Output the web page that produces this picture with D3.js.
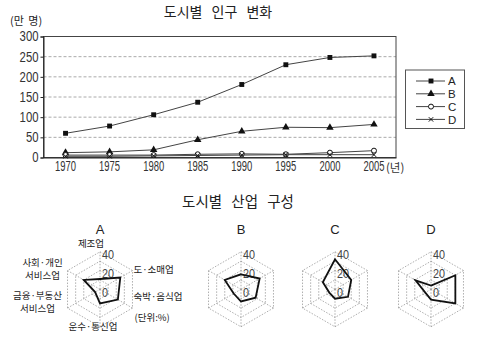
<!DOCTYPE html>
<html><head><meta charset="utf-8">
<script src="https://cdn.jsdelivr.net/npm/d3@7"></script>
<style>
html,body{margin:0;padding:0;background:#fff;}
svg{display:block;}
.kr{font-family:"Noto Sans CJK KR","Noto Sans",sans-serif;}
.num{font-family:"Liberation Sans",Arial,sans-serif;}
</style></head>
<body>
<script>
// ---------- data ----------
const years = ["1970","1975","1980","1985","1990","1995","2000","2005"];
const seriesNames = ["A","B","C","D"];
const popA = [60,78,106,137,181,230,248,252];
const popB = [12,14,19,44,65,75,74,82];
const popC = [6,6,6,8,9,8,12,17];
const popD = [3,3,4,5,6,7,7,7];
const yTicks = [0,50,100,150,200,250,300];

const industries = ["제조업","도·소매업","숙박·음식업","운수·통신업","금융·부동산|서비스업","사회·개인|서비스업"];
const cities = ["A","B","C","D"];
const shareA = [11,25,22,15,6,20];
const shareB = [16,23,18,13,9,20];
const shareC = [32,20,16,10,7,15];
const shareD = [4,30,30,11,7,19];
const radarTicks = [0,20,40];
const radarRings = [10,20,30,40];

// ---------- svg ----------
const W=483,H=347;
const svg=d3.select("body").append("svg").attr("width",W).attr("height",H);

// ===== line chart =====
const plot={l:43.5,r:396,t:36.5,b:157.5};
const x=d3.scaleBand().domain(years).range([plot.l,plot.r]);
const y=d3.scaleLinear().domain([0,300]).range([plot.b,plot.t]);
const xc=d=>x(d)+x.bandwidth()/2;

svg.append("text").attr("class","kr").attr("x",218).attr("y",16.5)
  .attr("text-anchor","middle").attr("font-size",14).attr("word-spacing",6).attr("fill","#222").text("도시별 인구 변화");
svg.append("text").attr("class","kr").attr("x",10).attr("y",24.8)
  .attr("font-size",11).attr("word-spacing",2).attr("fill","#222").text("(만 명)");

// gridlines
svg.append("g").selectAll("line").data(yTicks.filter(v=>v>0&&v<300)).join("line")
  .attr("x1",plot.l).attr("x2",plot.r).attr("y1",d=>y(d)).attr("y2",d=>y(d))
  .attr("stroke","#aaa").attr("stroke-width",1).attr("stroke-dasharray","3,2");

// frame
svg.append("rect").attr("x",plot.l).attr("y",plot.t).attr("width",plot.r-plot.l).attr("height",plot.b-plot.t)
  .attr("fill","none").attr("stroke","#444").attr("stroke-width",1);

// y axis (condensed digits via horizontal scale)
const ySx=0.81;
const yAxis=svg.append("g").attr("transform",`translate(${plot.l},0)`)
  .call(d3.axisLeft(y).tickValues(yTicks).tickSize(3).tickPadding(2));
yAxis.select(".domain").attr("stroke","#222");
yAxis.selectAll(".tick line").attr("stroke","#222");
yAxis.selectAll("text").attr("class","num").attr("font-size",14).attr("fill","#333")
  .attr("x",-5/ySx).attr("transform",`scale(${ySx},1)`);

// x axis
const xSx=0.63;
const xAxis=svg.append("g").attr("transform",`translate(0,${plot.b})`)
  .call(d3.axisBottom(x).tickSize(0).tickPadding(3));
xAxis.select(".domain").attr("stroke","#222");
xAxis.selectAll("text").attr("class","num").attr("font-size",15).attr("fill","#333")
  .attr("transform",`scale(${xSx},1)`);
svg.append("text").attr("class","kr").attr("x",xc("2005")+12).attr("y",plot.b+14)
  .attr("font-size",11.5).attr("fill","#333").text("(년)");

const allSeries=[popA,popB,popC,popD];
const line=d3.line().x((d,i)=>xc(years[i])).y(d=>y(d));
function marker(g,k,cx,cy){
  if(k===0){g.append("path").attr("d",d3.symbol(d3.symbolSquare,24)()).attr("transform",`translate(${cx},${cy})`).attr("fill","#111");}
  else if(k===1){g.append("path").attr("d",d3.symbol(d3.symbolTriangle,24)()).attr("transform",`translate(${cx},${cy})`).attr("fill","#111");}
  else if(k===2){g.append("circle").attr("cx",cx).attr("cy",cy).attr("r",2.5).attr("fill","#fff").attr("stroke","#111").attr("stroke-width",1);}
  else {g.append("path").attr("d",`M${cx-2.2},${cy-2.2}L${cx+2.2},${cy+2.2}M${cx-2.2},${cy+2.2}L${cx+2.2},${cy-2.2}`).attr("stroke","#111").attr("stroke-width",1);}
}
allSeries.forEach((s,k)=>{
  const g=svg.append("g");
  g.append("path").attr("d",line(s)).attr("fill","none").attr("stroke","#444").attr("stroke-width",1);
  s.forEach((v,i)=>marker(g,k,xc(years[i]),y(v)));
});

// legend
const lg=svg.append("g");
lg.append("rect").attr("x",405.5).attr("y",70).attr("width",59).attr("height",58.5)
  .attr("fill","#fff").attr("stroke","#555").attr("stroke-width",1);
seriesNames.forEach((n,k)=>{
  const ly=81+k*12.8;
  lg.append("line").attr("x1",416).attr("x2",445).attr("y1",ly).attr("y2",ly).attr("stroke","#444");
  marker(lg,k,431,ly);
  lg.append("text").attr("class","num").attr("x",448).attr("y",ly+4.2).attr("font-size",11.5).attr("fill","#222").text(n);
});

// ===== radar charts =====
svg.append("text").attr("class","kr").attr("x",238).attr("y",207)
  .attr("text-anchor","middle").attr("font-size",14.5).attr("word-spacing",6).attr("fill","#222").text("도시별 산업 구성");

const shares=[shareA,shareB,shareC,shareD];
const centers=[100,241,335,431];
const cy=289.3, R=37.5;
const rs=d3.scaleLinear().domain([0,40]).range([0,R]);
const ang=i=>i*Math.PI/3; // from 12 o'clock clockwise
const pt=(i,v,cx)=>[cx+rs(v)*Math.sin(ang(i)), cy-rs(v)*Math.cos(ang(i))];
const rSx=0.9;

cities.forEach((c,ci)=>{
  const cx=centers[ci];
  const g=svg.append("g");
  g.append("text").attr("class","num").attr("x",cx).attr("y",233.5).attr("text-anchor","middle")
    .attr("font-size",13).attr("fill","#222").text(c);
  radarRings.forEach(v=>{
    const pts=d3.range(6).map(i=>pt(i,v,cx));
    g.append("path").attr("d","M"+pts.join("L")+"Z").attr("fill","none")
      .attr("stroke","#999").attr("stroke-width",0.8).attr("stroke-dasharray","1.5,1.5");
  });
  d3.range(6).forEach(i=>{
    const p=pt(i,40,cx);
    g.append("line").attr("x1",cx).attr("y1",cy).attr("x2",p[0]).attr("y2",p[1])
      .attr("stroke","#999").attr("stroke-width",0.8).attr("stroke-dasharray","1.5,1.5");
  });
  radarTicks.forEach(v=>{
    g.append("text").attr("class","num").attr("x",(cx+2)/rSx).attr("y",cy-rs(v)+7.5)
      .attr("transform",`scale(${rSx},1)`)
      .attr("font-size",12).attr("fill","#444").text(v);
  });
  const radial=d3.lineRadial().angle((d,i)=>ang(i)).radius(d=>rs(d)).curve(d3.curveLinearClosed);
  g.append("path").attr("d",radial(shares[ci])).attr("transform",`translate(${cx},${cy})`)
    .attr("fill","none").attr("stroke","#111").attr("stroke-width",1.8).attr("stroke-linejoin","miter");
});

// axis labels for A
const cxA=centers[0];
const lab=(txt,x0,y0,anchor)=>{
  const lines=txt.split("|");
  lines.forEach((l,j)=>svg.append("text").attr("class","kr").attr("font-size",9.5).attr("fill","#222")
    .attr("text-anchor",anchor).attr("x",x0).attr("y",y0+j*13.8).text(l));
};
const vtx=i=>pt(i,40,cxA);
lab(industries[0],vtx(0)[0]-9,vtx(0)[1]-5,"middle");
lab(industries[1],vtx(1)[0]+1,vtx(1)[1]+2,"start");
lab(industries[2],vtx(2)[0]+1,vtx(2)[1]-8,"start");
lab(industries[3],vtx(3)[0]-7,vtx(3)[1]+3,"middle");
lab(industries[4],vtx(4)[0]-30,vtx(4)[1]-9.5,"middle");
lab(industries[5],vtx(5)[0]-25,vtx(5)[1]-5,"middle");
svg.append("text").attr("class","kr").attr("x",vtx(2)[0]+2).attr("y",vtx(2)[1]+13)
  .attr("font-size",9.5).attr("fill","#222").text("(단위:%)");
</script>
</body></html>
